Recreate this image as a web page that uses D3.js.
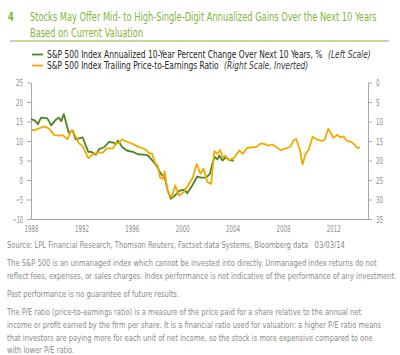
<!DOCTYPE html>
<html><head><meta charset="utf-8">
<script src="https://cdn.jsdelivr.net/npm/d3@7"></script>
<style>
html,body{margin:0;padding:0;background:#fff;}
svg{display:block;}
text{font-family:"Liberation Sans Narrow","DejaVu Sans Condensed","Liberation Sans",sans-serif;}
</style></head>
<body>
<svg id="chart" width="400" height="355"></svg>
<script>
// ---- data ----
const greenYears = [1988.0,1988.3,1988.55,1988.8,1989.3,1989.6,1989.95,1990.2,1990.4,1990.6,1991.0,1991.3,1991.55,1992.1,1992.55,1992.8,1993.15,1993.4,1993.8,1994.2,1994.55,1994.75,1994.9,1995.25,1995.65,1996.1,1996.5,1996.9,1997.25,1997.6,1997.95,1998.3,1998.6,1998.85,1999.1,1999.35,1999.8,2000.2,2000.4,2000.8,2001.2,2001.5,2001.9,2002.2,2002.45,2002.6,2002.8,2002.95,2003.2,2003.5,2003.7,2004.1];
const greenValues = [15.6,15.3,14.3,16.0,15.8,14.0,15.4,16.0,15.1,16.9,12.1,12.7,10.4,10.9,7.2,7.2,6.5,7.9,8.4,9.8,9.6,9.2,10.1,8.4,7.5,7.2,6.6,6.5,6.4,5.1,3.8,1.6,0.8,-2.7,-4.8,-4.2,-2.7,-2.5,-3.4,-1.4,0.9,0.6,0.6,1.6,4.8,5.9,5.3,6.3,5.0,5.9,5.1,5.0];
const peYears = [1988.0,1988.3,1988.9,1989.2,1989.45,1989.85,1990.25,1990.5,1990.9,1991.2,1991.5,1991.8,1992.1,1992.55,1992.9,1993.3,1993.7,1994.0,1994.5,1994.75,1995.0,1995.2,1995.6,1996.1,1996.5,1996.9,1997.1,1997.4,1997.6,1997.85,1998.05,1998.25,1998.45,1998.6,1998.85,1999.15,1999.45,1999.75,2000.1,2000.5,2000.85,2001.15,2001.45,2001.7,2002.0,2002.3,2002.55,2002.8,2003.0,2003.25,2003.45,2003.7,2003.9,2004.1,2004.55,2004.8,2005.15,2005.5,2005.9,2006.25,2006.55,2006.85,2007.15,2007.5,2007.85,2008.1,2008.35,2008.6,2008.85,2009.05,2009.35,2009.55,2009.8,2010.05,2010.35,2010.7,2011.05,2011.3,2011.6,2011.8,2012.0,2012.3,2012.55,2012.8,2013.1,2013.4,2013.65,2013.9,2014.1];
const peValues = [12.2,12.2,11.4,11.4,11.9,13.5,13.6,13.5,14.5,12.2,13.5,15.6,16.3,19.4,18.4,18.0,18.0,16.9,16.9,15.6,15.5,14.6,15.2,15.8,16.5,16.9,17.2,18.2,18.2,20.6,21.3,24.4,24.7,22.8,28.0,29.5,26.4,29.0,28.2,26.2,24.3,20.9,23.4,22.1,25.5,26.0,17.6,18.3,17.3,19.2,18.8,20.0,19.6,19.4,17.4,18.3,16.8,16.6,16.5,15.6,15.8,16.2,15.9,16.6,17.4,17.0,16.8,16.4,14.8,14.5,17.3,21.0,18.3,17.2,13.9,14.6,15.0,14.7,11.9,12.9,14.2,13.4,14.1,13.8,15.0,15.2,15.8,16.8,16.6];
const xTicks = [1988,1992,1996,2000,2004,2008,2012];
const leftTicks = [25,20,15,10,5,0,-5,-10];
const rightTicks = [0,5,10,15,20,25,30,35];
const titleLines = ["Stocks May Offer Mid- to High-Single-Digit Annualized Gains Over the Next 10 Years","Based on Current Valuation"];
const legendLabels = ["S&P 500 Index Annualized 10-Year Percent Change Over Next 10 Years, %",
                      "S&P 500 Index Trailing Price-to-Earnings Ratio"];
const legendNotes = ["(Left Scale)", "(Right Scale, Inverted)"];
const footer = [
  ["Source: LPL Financial Research, Thomson Reuters, Factset data Systems, Bloomberg data\u00a0\u00a0\u00a003/03/14"],
  ["The S&P 500 is an unmanaged index which cannot be invested into directly. Unmanaged index returns do not",
   "reflect fees, expenses, or sales charges. Index performance is not indicative of the performance of any investment."],
  ["Past performance is no guarantee of future results."],
  ["The P/E ratio (price-to-eamings ratio) is a measure of the price paid for a share relative to the annual net",
   "income or profit earned by the firm per share. It is a financial ratio used for valuation: a higher P/E ratio means",
   "that investors are paying more for each unit of net income, so the stock is more expensive compared to one",
   "with lower P/E ratio."]
];

// ---- styles ----
const GREEN = "#4a871f", ORANGE = "#f2a900", TITLE_GREEN = "#86b33c";
const AXIS = "#a8a8a8", TICKTXT = "#8c8c8c", FOOT = "#8a8a8a";

const svg = d3.select("#chart");

// place a horizontally-compressed text: returns its final width
function placeText(parent, str, x0, y0, size, k, attrs) {
  const g = parent.append("g").attr("transform", `translate(${x0},${y0}) scale(${k},1)`);
  const t = g.append("text").attr("x", 0).attr("y", 0).attr("font-size", size).text(str);
  Object.entries(attrs || {}).forEach(([a, v]) => t.attr(a, v));
  return t;
}
function natWidth(str, size, attrs) {
  const t = svg.append("text").attr("font-size", size).text(str);
  Object.entries(attrs || {}).forEach(([a, v]) => t.attr(a, v));
  const w = t.node().getComputedTextLength();
  t.remove();
  return w;
}

// ---- title ----
const tAttrs = {fill: TITLE_GREEN};
const kT = 347 / natWidth(titleLines[0], 12.5, tAttrs);
placeText(svg, "4", 8, 21, 12.5, kT, {fill: TITLE_GREEN, "font-weight": "bold"});
titleLines.forEach((s, i) => placeText(svg, s, 30, 21 + i * 16, 12.5, kT, tAttrs));
svg.append("line").attr("x1", 10).attr("x2", 389).attr("y1", 41).attr("y2", 41)
  .attr("stroke", TITLE_GREEN).attr("stroke-width", 1);

// ---- legend ----
const legColors = [GREEN, ORANGE];
const lAttrs = {fill: "#262626", "font-weight": 500};
const nAttrs = {fill: "#3a3a3a", "font-style": "italic"};
const kL = 276 / natWidth(legendLabels[0], 10, lAttrs);
legendLabels.forEach((s, i) => {
  const yy = 54.5 + i * 11;
  svg.append("line").attr("x1", 32).attr("x2", 43).attr("y1", yy).attr("y2", yy)
    .attr("stroke", legColors[i]).attr("stroke-width", 1.8);
  placeText(svg, s, 47, yy + 3.5, 10, kL, lAttrs);
  const end = 47 + natWidth(s, 10, lAttrs) * kL;
  placeText(svg, legendNotes[i], end + 5, yy + 3.5, 10, kL, nAttrs);
});

// ---- scales ----
const x = d3.scaleLinear().domain([1988, 2014.75]).range([31, 368]);
const yL = d3.scaleLinear().domain([-10, 25]).range([219, 82.5]);
const yR = d3.scaleLinear().domain([0, 35]).range([82.5, 219]);

function styleAxis(g) {
  g.selectAll(".domain").attr("stroke", AXIS);
  g.selectAll(".tick line").attr("stroke", AXIS);
  g.selectAll(".tick text").attr("fill", TICKTXT).attr("font-size", 9.5)
    .each(function(){
      const n = this.textContent.length;
      const w = this.getComputedTextLength();
      const k = Math.min(1, n * 3.5 / w);
      const xa = +(this.getAttribute("x") || 0);
      d3.select(this).attr("x", xa / k).attr("transform", `scale(${k},1)`);
    });
}

svg.append("g").attr("transform", "translate(31,0)")
  .call(d3.axisLeft(yL).tickValues(leftTicks).tickSize(4).tickSizeOuter(0).tickPadding(4))
  .call(styleAxis);
svg.append("g").attr("transform", "translate(368,0)")
  .call(d3.axisRight(yR).tickValues(rightTicks).tickSize(4).tickSizeOuter(0).tickPadding(4))
  .call(styleAxis);
svg.append("g").attr("transform", "translate(0,219)")
  .call(d3.axisBottom(x).tickValues(xTicks).tickSize(0).tickPadding(6).tickFormat(d3.format("d")))
  .call(styleAxis);

// ---- lines ----
const greenData = greenYears.map((yr, i) => [yr, greenValues[i]]);
const peData = peYears.map((yr, i) => [yr, peValues[i]]);
svg.append("path").datum(greenData)
  .attr("fill", "none").attr("stroke", GREEN).attr("stroke-width", 1.8).attr("stroke-linejoin", "round")
  .attr("d", d3.line().x(d => x(d[0])).y(d => yL(d[1])));
svg.append("path").datum(peData)
  .attr("fill", "none").attr("stroke", ORANGE).attr("stroke-width", 1.8).attr("stroke-linejoin", "round")
  .attr("d", d3.line().x(d => x(d[0])).y(d => yR(d[1])));

// ---- footer ----
const baselines = [[248], [266, 279], [297], [315, 328, 341, 353]];
const fAttrs = {fill: FOOT};
const kF = 390 / natWidth(footer[1][1], 9, fAttrs);
const fg = svg.append("g").attr("class", "footer");
footer.forEach((para, pi) => {
  para.forEach((line, li) => placeText(fg, line, 7, baselines[pi][li], 9, kF, fAttrs));
});
</script>
</body></html>
